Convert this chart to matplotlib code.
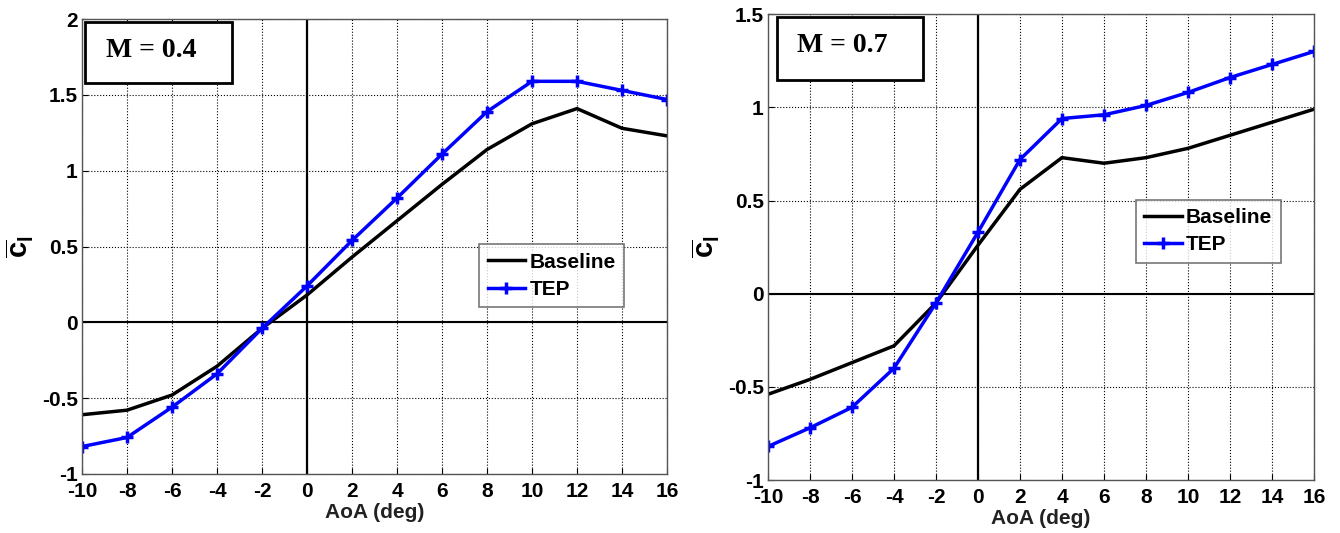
import numpy as np
import matplotlib.pyplot as plt
from matplotlib.patches import Rectangle

AOA = [-10, -8, -6, -4, -2, 0, 2, 4, 6, 8, 10, 12, 14, 16]

# M = 0.4
BASE_04 = [-0.61, -0.58, -0.48, -0.29, -0.04, 0.18, 0.43, 0.67, 0.91, 1.14, 1.31, 1.41, 1.28, 1.23]
TEP_04 = [-0.82, -0.76, -0.56, -0.34, -0.04, 0.24, 0.54, 0.82, 1.11, 1.39, 1.59, 1.59, 1.53, 1.47]

# M = 0.7
BASE_07 = [-0.54, -0.46, -0.37, -0.28, -0.05, 0.26, 0.56, 0.73, 0.70, 0.73, 0.78, 0.85, 0.92, 0.99]
TEP_07 = [-0.82, -0.72, -0.61, -0.40, -0.05, 0.33, 0.72, 0.94, 0.96, 1.01, 1.08, 1.16, 1.23, 1.30]

XTICKS = list(range(-10, 17, 2))
YTICKS_04 = [-1, -0.5, 0, 0.5, 1, 1.5, 2]
YTICKS_07 = [-1, -0.5, 0, 0.5, 1, 1.5]

plt.rcParams['font.family'] = ['Liberation Sans', 'DejaVu Sans']
plt.rcParams['font.weight'] = 'bold'
plt.rcParams['mathtext.fontset'] = 'custom'
plt.rcParams['mathtext.rm'] = 'Liberation Sans:bold'
plt.rcParams['mathtext.it'] = 'Liberation Sans:bold'

fig = plt.figure(figsize=(13.4, 5.33), dpi=100)


def panel(rect, base, tep, yticks, label, legend_pos, box, text_pos):
    ax = fig.add_axes(rect)
    ax.plot(AOA, base, color='black', lw=2.5, label='Baseline')
    ax.plot(AOA, tep, color='#0000ff', lw=2.5, marker='+', ms=9, mew=2.5,
            label='TEP')
    ax.axhline(0, color='black', lw=1.5, zorder=1)
    ax.axvline(0, color='black', lw=1.6, zorder=1)
    ax.set_xlim(-10, 16)
    ax.set_ylim(yticks[0], yticks[-1])
    ax.set_xticks(XTICKS)
    ax.set_xticklabels(["%g" % v for v in XTICKS])
    ax.set_yticks(yticks)
    ax.set_yticklabels(["%g" % v for v in yticks])
    ax.tick_params(direction='in', labelsize=15, length=4)
    ax.tick_params(axis='x', pad=6)
    ax.tick_params(axis='y', pad=3)
    ax.grid(True, linestyle=':', color='black', lw=0.8)
    for sp in ax.spines.values():
        sp.set_color('#555555')
        sp.set_linewidth(1.0)
    ax.set_xlabel('AoA (deg)', fontsize=15, fontweight='bold',
                  color='#222222', labelpad=1)
    ax.set_ylabel(r'$\overline{\mathrm{c}}_{\mathrm{l}}$', fontsize=21,
                  labelpad=4)
    leg = ax.legend(loc='upper left', bbox_to_anchor=legend_pos,
                    borderaxespad=0, fontsize=15, frameon=True,
                    fancybox=False, handlelength=1.8, handletextpad=0.2,
                    borderpad=0.4, labelspacing=0.4)
    leg.get_frame().set_edgecolor('#555555')
    leg.get_frame().set_linewidth(1.2)
    ax.add_patch(Rectangle((box[0], box[1]), box[2] - box[0],
                           box[3] - box[1], transform=ax.transAxes,
                           fc='white', ec='black', lw=2, zorder=5))
    ax.text(text_pos[0], text_pos[1], label, transform=ax.transAxes,
            family='Liberation Serif', fontsize=20, fontweight='bold',
            va='center', ha='left', zorder=6)
    return ax


panel([0.0612, 0.111, 0.4366, 0.853], BASE_04, TEP_04, YTICKS_04,
      'M = 0.4', (0.679, 0.505), (0.005, 0.859, 0.256, 0.993),
      (0.041, 0.932))
panel([0.5731, 0.0994, 0.4075, 0.874], BASE_07, TEP_07, YTICKS_07,
      'M = 0.7', (0.674, 0.602), (0.016, 0.858, 0.284, 0.993),
      (0.054, 0.933))

fig.savefig('out.png', dpi=100)
